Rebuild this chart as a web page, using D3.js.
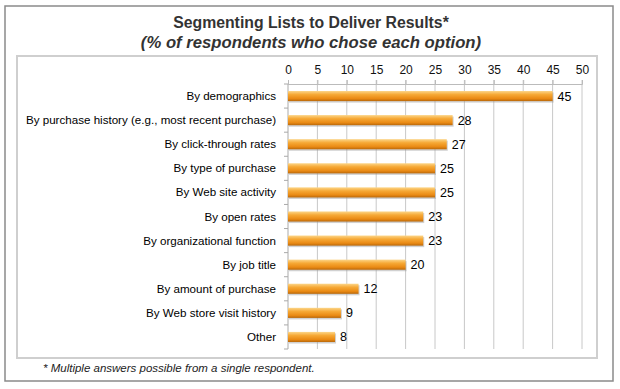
<!DOCTYPE html>
<html>
<head>
<meta charset="utf-8">
<script src="https://cdn.jsdelivr.net/npm/d3@7"></script>
<style>
  body { margin: 0; background: #fff; }
  svg { font-family: "Liberation Sans", Arial, sans-serif; }
</style>
</head>
<body>
<div id="chart"></div>
<script>
// Data
const categories = [
    "By demographics",
    "By purchase history (e.g., most recent purchase)",
    "By click-through rates",
    "By type of purchase",
    "By Web site activity",
    "By open rates",
    "By organizational function",
    "By job title",
    "By amount of purchase",
    "By Web store visit history",
    "Other"
];
const values = [45, 28, 27, 25, 25, 23, 23, 20, 12, 9, 8];
const xTicks = [0, 5, 10, 15, 20, 25, 30, 35, 40, 45, 50];

const W = 620, H = 389;
const svg = d3.select("#chart")
    .append("svg")
    .attr("width", W)
    .attr("height", H);

// Outer frame
svg.append("rect")
    .attr("x", 5).attr("y", 6)
    .attr("width", 608).attr("height", 375)
    .attr("fill", "#fff")
    .attr("stroke", "#8a8a8a")
    .attr("stroke-width", 1.5);

// Inner plot frame
svg.append("rect")
    .attr("x", 17).attr("y", 56)
    .attr("width", 580).attr("height", 302)
    .attr("fill", "#fff")
    .attr("stroke", "#cfcfcf")
    .attr("stroke-width", 2);

// Titles
svg.append("text")
    .attr("x", 311).attr("y", 28)
    .attr("text-anchor", "middle")
    .attr("font-size", 15.8)
    .attr("font-weight", "bold")
    .attr("fill", "#333")
    .text("Segmenting Lists to Deliver Results*");

svg.append("text")
    .attr("x", 311).attr("y", 48)
    .attr("text-anchor", "middle")
    .attr("font-size", 16.7)
    .attr("font-weight", "bold")
    .attr("font-style", "italic")
    .attr("fill", "#333")
    .text("(% of respondents who chose each option)");

// Footnote
svg.append("text")
    .attr("x", 43).attr("y", 372)
    .attr("font-size", 11.5)
    .attr("font-style", "italic")
    .attr("fill", "#222")
    .text("* Multiple answers possible from a single respondent.");

// Scales
const x = d3.scaleLinear().domain([0, 50]).range([288, 582]);
const y = d3.scaleBand().domain(categories).range([84, 349]).paddingInner(0.58).paddingOuter(0.29);
const band = d3.scaleBand().domain(categories).range([84, 349]);

// Gradient for bars
const defs = svg.append("defs");
const grad = defs.append("linearGradient")
    .attr("id", "barGrad")
    .attr("x1", 0).attr("y1", 0).attr("x2", 0).attr("y2", 1);
grad.append("stop").attr("offset", "0%").attr("stop-color", "#fcd68a");
grad.append("stop").attr("offset", "35%").attr("stop-color", "#f6a936");
grad.append("stop").attr("offset", "75%").attr("stop-color", "#ea8a14");
grad.append("stop").attr("offset", "100%").attr("stop-color", "#b9680a");

// Gridlines
svg.append("g")
    .selectAll("line")
    .data(xTicks.slice(1))
    .enter()
    .append("line")
    .attr("x1", d => x(d)).attr("x2", d => x(d))
    .attr("y1", 80).attr("y2", 349)
    .attr("stroke", "#c8c8c8")
    .attr("stroke-width", 1);

// Top axis
const xAxis = svg.append("g")
    .attr("transform", "translate(0,84)")
    .call(d3.axisTop(x).tickValues(xTicks).tickSize(4).tickPadding(6));
xAxis.select(".domain").attr("stroke", "#bbb");
xAxis.selectAll(".tick line").attr("stroke", "#bbb");
xAxis.selectAll("text")
    .attr("font-size", 12)
    .attr("fill", "#111")
    .attr("font-family", "Liberation Sans, Arial, sans-serif");

// Left axis (category boundaries)
svg.append("line")
    .attr("x1", 288).attr("x2", 288)
    .attr("y1", 84).attr("y2", 349)
    .attr("stroke", "#aaa");
svg.append("g")
    .selectAll("line")
    .data(categories)
    .enter()
    .append("line")
    .attr("x1", 284).attr("x2", 288)
    .attr("y1", d => band(d) + band.bandwidth())
    .attr("y2", d => band(d) + band.bandwidth())
    .attr("stroke", "#aaa");
svg.append("line")
    .attr("x1", 284).attr("x2", 288)
    .attr("y1", 84).attr("y2", 84)
    .attr("stroke", "#aaa");

// Category labels
svg.append("g")
    .selectAll("text")
    .data(categories)
    .enter()
    .append("text")
    .attr("x", 276)
    .attr("y", d => band(d) + band.bandwidth() / 2 + 4)
    .attr("text-anchor", "end")
    .attr("font-size", 11.6)
    .attr("fill", "#000")
    .text(d => d);

// Bar shadows
svg.append("g")
    .selectAll("rect")
    .data(values)
    .enter()
    .append("rect")
    .attr("x", x(0) + 1)
    .attr("y", (d, i) => y(categories[i]) + 1.5)
    .attr("width", d => x(d) - x(0))
    .attr("height", y.bandwidth())
    .attr("fill", "#999")
    .attr("opacity", 0.45);

// Bars
svg.append("g")
    .selectAll("rect")
    .data(values)
    .enter()
    .append("rect")
    .attr("x", x(0))
    .attr("y", (d, i) => y(categories[i]))
    .attr("width", d => x(d) - x(0))
    .attr("height", y.bandwidth())
    .attr("fill", "url(#barGrad)");

// Value labels
svg.append("g")
    .selectAll("text")
    .data(values)
    .enter()
    .append("text")
    .attr("x", d => x(d) + 5)
    .attr("y", (d, i) => band(categories[i]) + band.bandwidth() / 2 + 4.5)
    .attr("font-size", 12.5)
    .attr("fill", "#000")
    .text(d => d);
</script>
</body>
</html>
